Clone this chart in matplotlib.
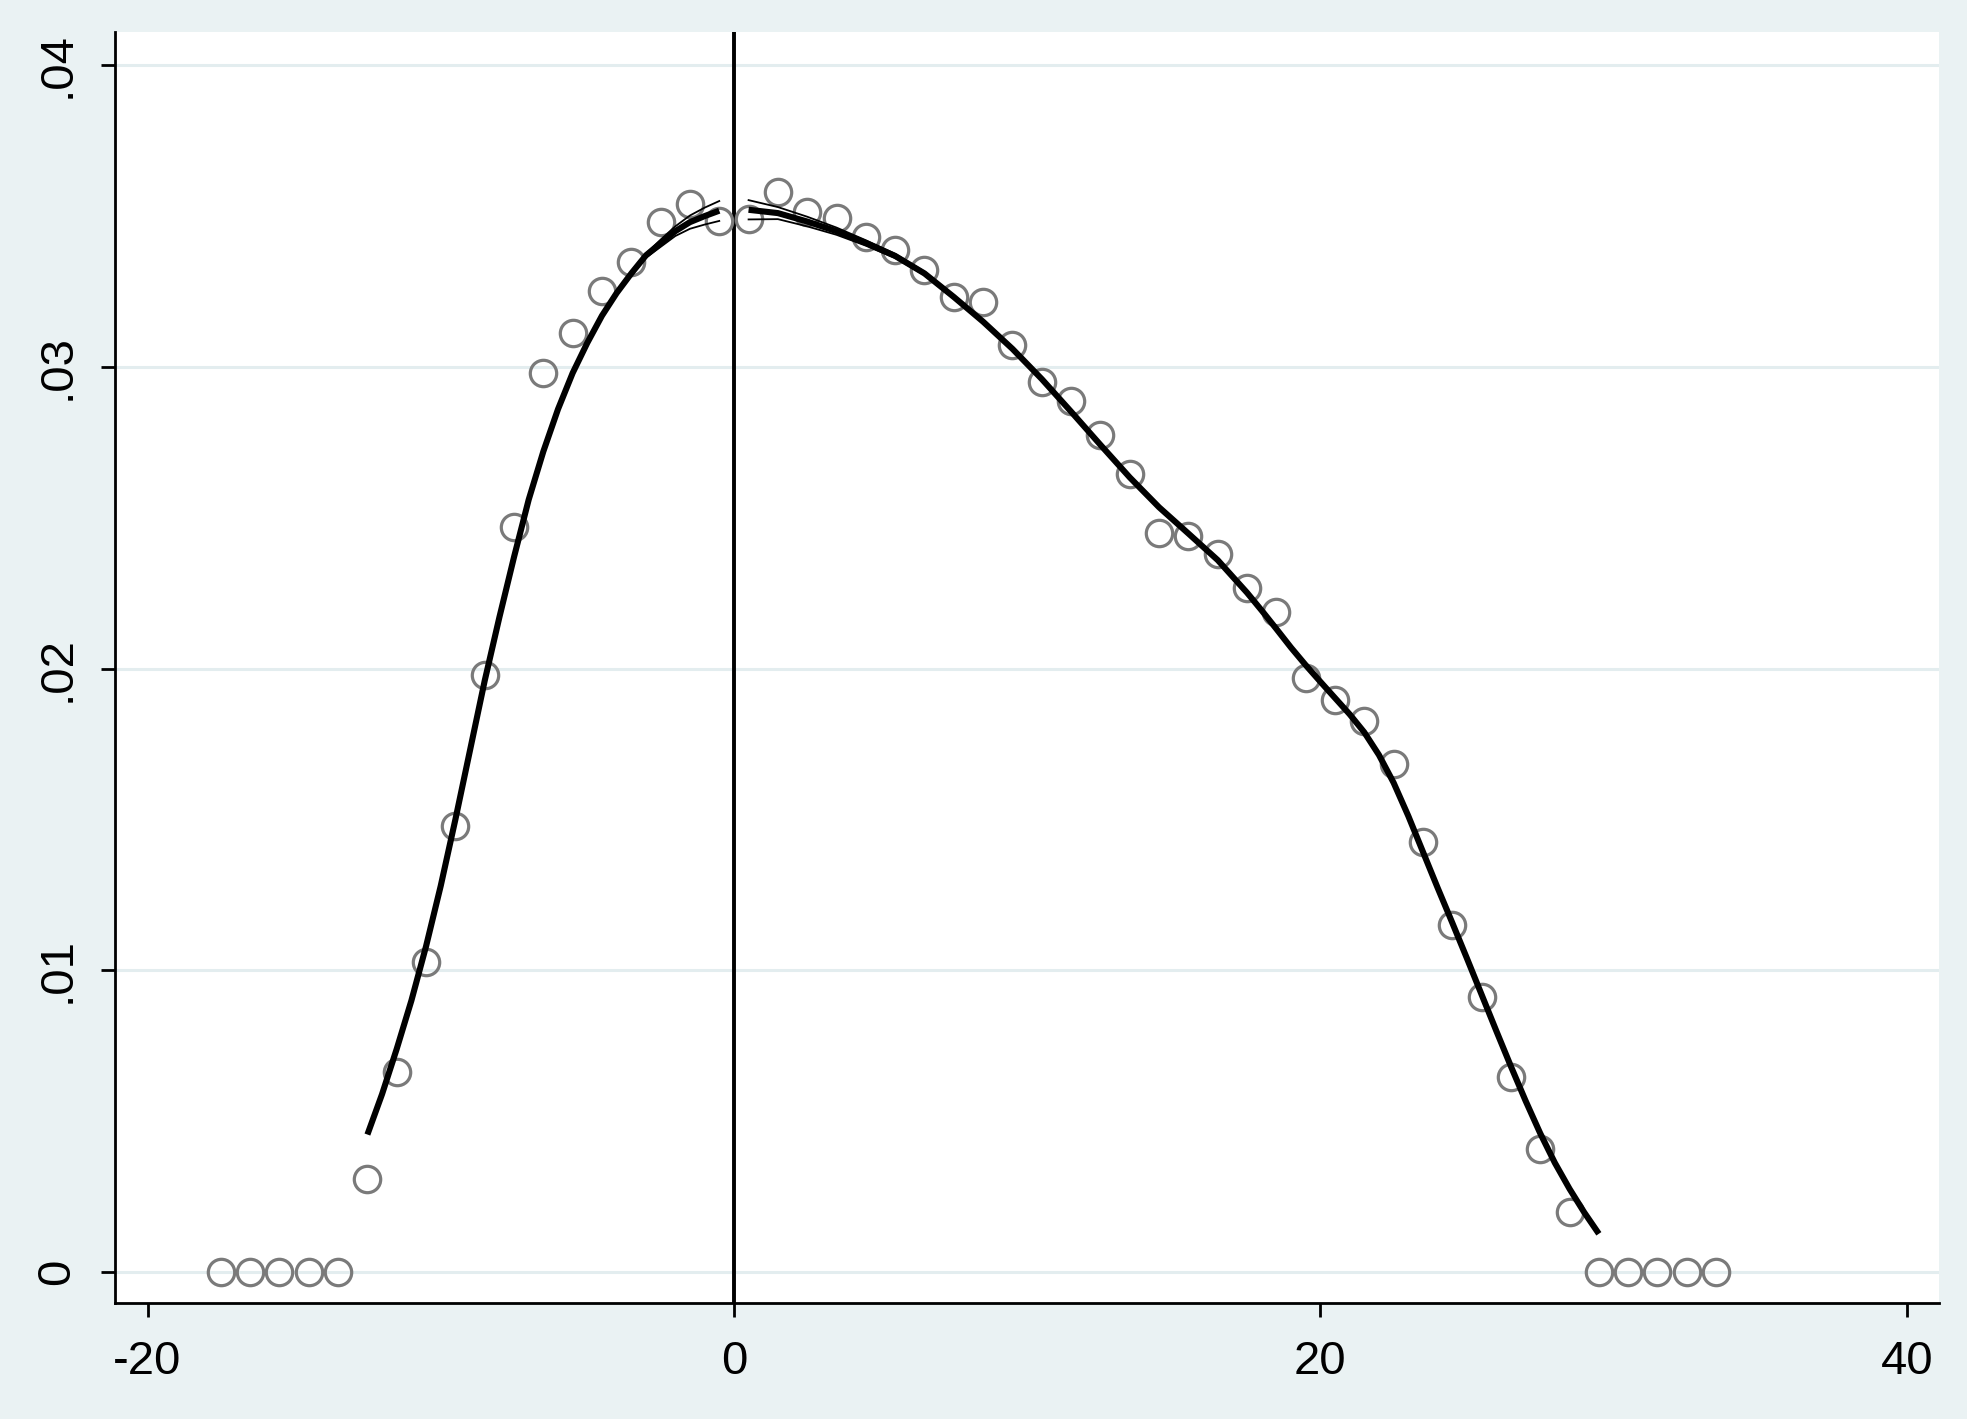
import matplotlib
matplotlib.use("Agg")
import matplotlib.pyplot as plt

plt.rcParams['font.family'] = ['Liberation Sans', 'DejaVu Sans']

# ---- binned density (scatter) ----
bin_x = [-17.5, -16.5, -15.5, -14.5, -13.5, -12.5, -11.5, -10.5, -9.5, -8.5,
         -7.5, -6.5, -5.5, -4.5, -3.5, -2.5, -1.5, -0.5,
         0.5, 1.5, 2.5, 3.5, 4.5, 5.5, 6.5, 7.5, 8.5, 9.5,
         10.5, 11.5, 12.5, 13.5, 14.5, 15.5, 16.5, 17.5, 18.5, 19.5,
         20.5, 21.5, 22.5, 23.5, 24.5, 25.5, 26.5, 27.5, 28.5, 29.5,
         30.5, 31.5, 32.5, 33.5]
bin_y = [0.0, 0.0, 0.0, 0.0, 0.0, 0.00308, 0.00662, 0.01029, 0.01479, 0.01979,
         0.02469, 0.02979, 0.03114, 0.03252, 0.03347, 0.03480, 0.03540, 0.03485,
         0.03492, 0.03580, 0.03515, 0.03494, 0.03430, 0.03387, 0.03320, 0.03233, 0.03217, 0.03074,
         0.02950, 0.02888, 0.02776, 0.02645, 0.02450, 0.02440, 0.02381, 0.02268, 0.02188, 0.01970,
         0.01896, 0.01827, 0.01683, 0.01427, 0.01151, 0.00913, 0.00648, 0.00409, 0.00198, 0.0,
         0.0, 0.0, 0.0, 0.0]

# ---- local polynomial fit, left of cutoff ----
fit_left_x = [-12.5, -12.0, -11.5, -11.0, -10.5, -10.0, -9.5, -9.0, -8.5, -8.0,
              -7.5, -7.0, -6.5, -6.0, -5.5, -5.0, -4.5, -4.0, -3.5, -3.0,
              -2.5, -2.0, -1.5, -1.0, -0.5]
fit_left_y = [0.00456, 0.0059, 0.0074, 0.0090, 0.0108, 0.0128, 0.0150, 0.0173, 0.0196, 0.0217,
              0.0237, 0.0256, 0.0272, 0.0286, 0.0298, 0.0308, 0.0317, 0.03245, 0.0331, 0.0337,
              0.0341, 0.0345, 0.0348, 0.0350, 0.03518]

# ---- local polynomial fit, right of cutoff ----
fit_right_x = [0.5, 1.5, 2.5, 3.5, 4.5, 5.5, 6.5, 7.5, 8.5, 9.5,
               10.5, 11.5, 12.5, 13.5, 14.5, 15.5, 16.5, 17.5, 18.0, 18.5,
               19.0, 19.5, 20.0, 20.5, 21.0, 21.5, 22.0, 22.5, 23.0, 23.5,
               24.0, 24.5, 25.0, 25.5, 26.0, 26.5, 27.0, 27.5, 28.0, 28.5,
               29.0, 29.5]
fit_right_y = [0.03521, 0.03510, 0.03482, 0.03450, 0.03411, 0.03368, 0.03310, 0.03232, 0.03150, 0.03060,
               0.02960, 0.02852, 0.02742, 0.02634, 0.02535, 0.02448, 0.02360, 0.02252, 0.02193, 0.02132,
               0.02070, 0.02012, 0.01957, 0.01903, 0.01849, 0.01789, 0.01714, 0.01622, 0.01512, 0.01393,
               0.01274, 0.01158, 0.01040, 0.00920, 0.00800, 0.00682, 0.00568, 0.00460, 0.00362, 0.00276,
               0.00198, 0.00127]

# ---- confidence bands near the cutoff ----
ci_left_x = [-3.5, -3.0, -2.5, -2.0, -1.5, -1.0, -0.5]
ci_left_hi = [0.03318, 0.03376, 0.03422, 0.03466, 0.03502, 0.03528, 0.03550]
ci_left_lo = [0.03302, 0.03362, 0.03398, 0.03434, 0.03458, 0.03472, 0.03484]
ci_right_x = [0.5, 1.5, 2.5, 3.5, 4.5, 5.5, 6.5, 7.5]
ci_right_hi = [0.03553, 0.03530, 0.03498, 0.03462, 0.03420, 0.03375, 0.03316, 0.03238]
ci_right_lo = [0.03489, 0.03490, 0.03466, 0.03438, 0.03402, 0.03361, 0.03304, 0.03226]

cutoff = 0.0
x_ticks = [-20, 0, 20, 40]
y_ticks = [0.0, 0.01, 0.02, 0.03, 0.04]
y_ticklabels = ['0', '.01', '.02', '.03', '.04']

bg = '#EAF2F3'
grid_c = '#E3EDEF'

fig = plt.figure(figsize=(19.67, 14.19), dpi=100, facecolor=bg)
ax = fig.add_axes([0.0586, 0.0814, 0.9273, 0.896])
ax.set_facecolor('white')

ax.set_xlim(-21.1, 41.11)
ax.set_ylim(-0.00104, 0.0411)

for yt in y_ticks:
    ax.axhline(yt, color=grid_c, lw=2.2, zorder=0)

ax.axvline(cutoff, color='black', lw=2.8, zorder=2)

ax.plot(bin_x, bin_y, linestyle='none', marker='o', markersize=19,
        markerfacecolor='none', markeredgecolor='#7a7a7a', markeredgewidth=2.3, zorder=3)

ax.plot(ci_left_x, ci_left_hi, color='black', lw=1.3, zorder=4)
ax.plot(ci_left_x, ci_left_lo, color='black', lw=1.3, zorder=4)
ax.plot(ci_right_x, ci_right_hi, color='black', lw=1.3, zorder=4)
ax.plot(ci_right_x, ci_right_lo, color='black', lw=1.3, zorder=4)

ax.plot(fit_left_x, fit_left_y, color='black', lw=4.4, zorder=5,
        solid_capstyle='butt', solid_joinstyle='round')
ax.plot(fit_right_x, fit_right_y, color='black', lw=4.4, zorder=5,
        solid_capstyle='butt', solid_joinstyle='round')

ax.spines['top'].set_visible(False)
ax.spines['right'].set_visible(False)
ax.spines['left'].set_linewidth(2.0)
ax.spines['bottom'].set_linewidth(2.0)

ax.set_xticks(x_ticks)
ax.set_xticklabels([str(v) for v in x_ticks])
ax.set_yticks(y_ticks)
ax.set_yticklabels(y_ticklabels, rotation=90, va='center')
ax.tick_params(axis='both', direction='out', length=10, width=2.0, labelsize=34, colors='black')
ax.tick_params(axis='x', pad=16)
ax.tick_params(axis='y', pad=16)

fig.savefig('out.png', dpi=100, facecolor=bg)
